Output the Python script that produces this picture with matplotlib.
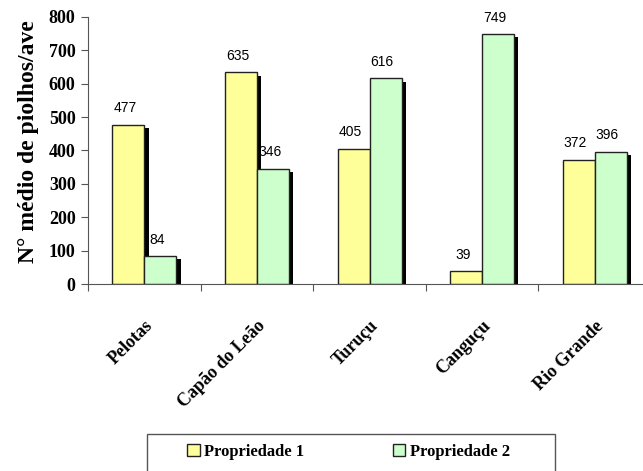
import numpy as np
import matplotlib
matplotlib.use('Agg')
import matplotlib.pyplot as plt
import matplotlib.patheffects as pe
import matplotlib.transforms as mtransforms
from matplotlib.patches import Patch, Rectangle

cidades = ['Pelotas', 'Capão do Leão', 'Turuçu', 'Canguçu', 'Rio Grande']
prop1 = [477, 635, 405, 39, 372]
prop2 = [84, 346, 616, 749, 396]
series_names = ['Propriedade 1', 'Propriedade 2']
cores = ['#FFFF99', '#CCFFCC']

fig = plt.figure(figsize=(6.43, 4.71), dpi=100)
ax = fig.add_axes([0.137, 0.397, 0.8756, 0.567])

x = np.arange(len(cidades))
w = 0.285
shadow = [pe.SimplePatchShadow(offset=(3, -2.5), shadow_rgbFace='black', alpha=1), pe.Normal()]
for xs, vals, cor in [(x - w/2, prop1, cores[0]), (x + w/2, prop2, cores[1])]:
    ax.bar(xs, vals, w, color=cor, edgecolor='#222222', lw=1, path_effects=shadow)
    for xi, v in zip(xs, vals):
        ax.text(xi - 0.03, v + 28, str(v), ha='center', va='bottom',
                fontsize=10, family='Liberation Sans')

ax.set_xlim(-0.5, 4.5)
ax.set_ylim(0, 800)
ax.set_yticks(range(0, 801, 100))
ax.set_yticklabels([str(v) for v in range(0, 801, 100)], family='Liberation Serif',
                   fontweight='bold', fontsize=13)
ax.set_xticks(np.arange(-0.5, 5, 1))
ax.set_xticklabels([])
ax.set_xticks(x, minor=True)
ax.set_xticklabels(cidades, minor=True, rotation=45, ha='right', va='top',
                   rotation_mode='anchor', family='Liberation Serif',
                   fontweight='bold', fontsize=13)
offset = mtransforms.ScaledTranslation(-8/100, 0, fig.dpi_scale_trans)
for lab in ax.get_xticklabels(minor=True):
    lab.set_transform(lab.get_transform() + offset)
ax.tick_params(axis='x', which='minor', length=0, pad=24)
ax.tick_params(axis='x', which='major', length=5, direction='out', color='#555555')
ax.tick_params(axis='y', length=5, direction='out', color='#555555', pad=4)

for s in ['top', 'right']:
    ax.spines[s].set_visible(False)
ax.spines['left'].set_color('#555555')
ax.spines['bottom'].set_color('#555555')

ax.set_ylabel('N° médio de piolhos/ave', family='Liberation Serif', fontweight='bold',
              fontsize=17)
ax.yaxis.set_label_coords(-0.088, 0.535)

# caixa da legenda (cortada embaixo como no original)
fig.patches.append(Rectangle((147/643, -0.05), (555-147)/643, 0.05 + (471-434)/471,
                             transform=fig.transFigure, fill=False,
                             edgecolor='#555555', lw=1))
handles = [Patch(facecolor=c, edgecolor='#222222', lw=1) for c in cores]
fig.legend(handles=handles, labels=series_names, loc='center left',
           bbox_to_anchor=(187/643, 1 - 452/471), ncol=2, frameon=False,
           borderpad=0, borderaxespad=0, columnspacing=5.3,
           handlelength=0.75, handleheight=0.75, handletextpad=0.3,
           prop={'family': 'Liberation Serif', 'weight': 'bold', 'size': 12})

plt.savefig('out.png', dpi=100)
